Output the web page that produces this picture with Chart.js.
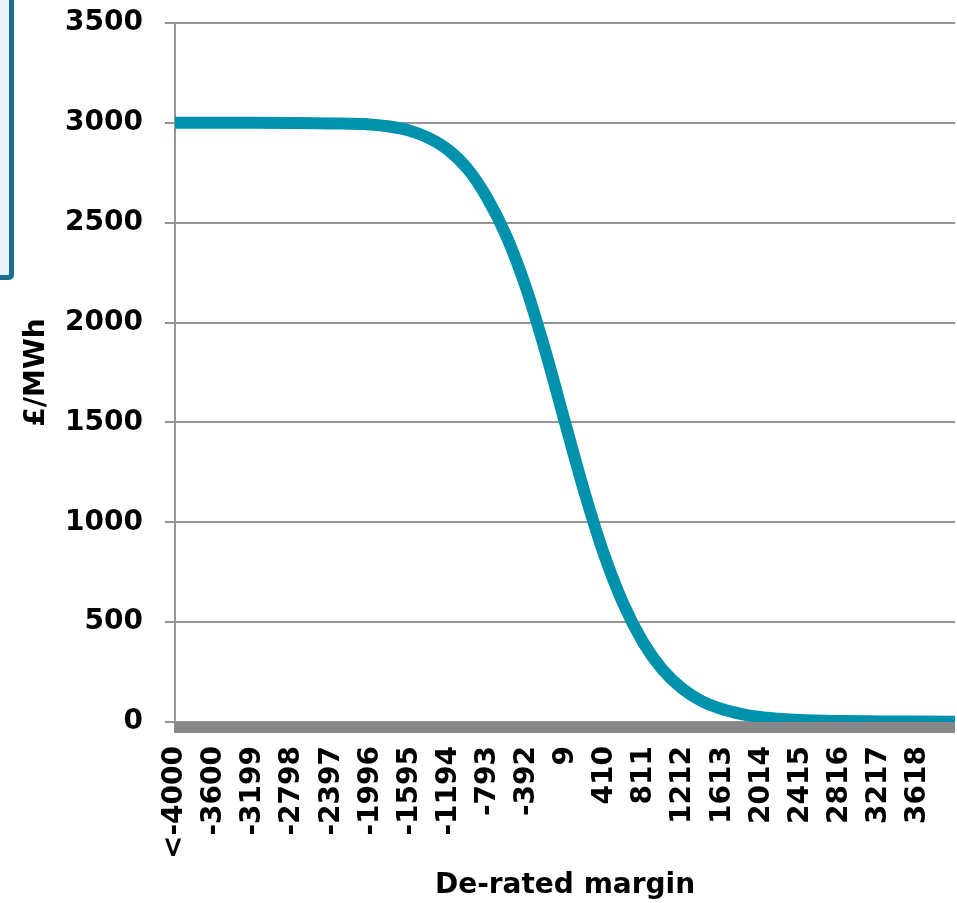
<!DOCTYPE html>
<html>
<head>
<meta charset="utf-8">
<script src="https://cdn.jsdelivr.net/npm/chart.js@4/dist/chart.umd.min.js"></script>
<style>
  body{margin:0;background:#fff;overflow:hidden}
  #wrap{position:relative;width:957px;height:903px}
  #box{position:absolute;left:-20px;top:-10px;width:24px;height:280px;
       border:5px solid #1c6e95;border-radius:5px;background:#e8f3f7}
  canvas{position:absolute;left:0;top:0}
</style>
</head>
<body>
<div id="wrap">
  <div id="box"></div>
  <canvas id="chart" width="957" height="903"></canvas>
</div>
<script>
// ===== DATA =====
let margin = [-4000,-3600,-3200,-2800,-2400,-2000,-1800,-1600,-1400,-1200,-1000,-800,-600,-400,-200,
              0,200,400,600,800,1000,1200,1400,1600,1800,2000,2200,2400,2800,3200,3600,4000]
let price  = [3000,3000,3000,2999,2997,2992,2982,2962,2925,2865,2770,2625,2432,2175,1855,
              1500,1150,840,590,400,262,168,105,66,41,25,16,10,5,3,2,1]

let tickValues = [-4000,-3600,-3199,-2798,-2397,-1996,-1595,-1194,-793,-392,9,410,811,1212,1613,2014,2415,2816,3217,3618]
let tickLabels = ["<-4000","-3600","-3199","-2798","-2397","-1996","-1595","-1194","-793","-392","9","410","811","1212","1613","2014","2415","2816","3217","3618"]

let points = margin.map(function(m,i){ return {x:m, y:price[i]} })

let boldFont = {family:"'DejaVu Sans', Verdana, sans-serif", size:28, weight:"bold"}

// ===== thick grey base line under the plot =====
let baseLine = {
  id:"baseLine",
  beforeDatasetsDraw:function(chart){
    let c = chart.ctx
    let a = chart.chartArea
    let y0 = chart.scales.y.getPixelForValue(0)
    c.save()
    c.fillStyle = "#878787"
    c.fillRect(a.left-1, y0, a.right-a.left+1, 11)
    c.restore()
  }
}

// ===== CHART =====
let ctx = document.getElementById("chart")

let chart = new Chart(ctx,{
  type:"line",
  data:{
    datasets:[{
      data:points,
      borderColor:"#0092ad",
      borderWidth:12,
      pointRadius:0,
      cubicInterpolationMode:"monotone",
      fill:false,
      clip:0
    }]
  },
  options:{
    responsive:false,
    animation:false,
    layout:{padding:{top:23,right:2,left:0,bottom:0}},
    plugins:{legend:{display:false},tooltip:{enabled:false}},
    scales:{
      x:{
        type:"linear",
        min:-4000,
        max:4000,
        afterBuildTicks:function(scale){
          scale.ticks = tickValues.map(function(v){ return {value:v} })
        },
        afterFit:function(scale){
          scale.height = 181
          scale.paddingLeft = 0
          scale.paddingRight = 0
        },
        grid:{display:false},
        border:{display:false},
        ticks:{
          autoSkip:false,
          minRotation:90,
          maxRotation:90,
          padding:16,
          color:"#000",
          font:boldFont,
          callback:function(v,i){ return tickLabels[i] }
        },
        title:{display:true,text:"De-rated margin",color:"#000",font:boldFont,padding:{top:0,bottom:0}}
      },
      y:{
        min:0,
        max:3500,
        afterFit:function(scale){
          scale.width = 175
          scale.paddingTop = 0
          scale.paddingBottom = 0
        },
        grid:{color:"#959595",lineWidth:2,tickLength:10},
        border:{color:"#959595",width:2},
        ticks:{
          stepSize:500,
          padding:22,
          color:"#000",
          font:boldFont,
          callback:function(v){ return String(v) }
        },
        title:{display:true,text:"£/MWh",color:"#000",font:boldFont,padding:{top:20,bottom:0}}
      }
    }
  },
  plugins:[baseLine]
})
</script>
</body>
</html>
